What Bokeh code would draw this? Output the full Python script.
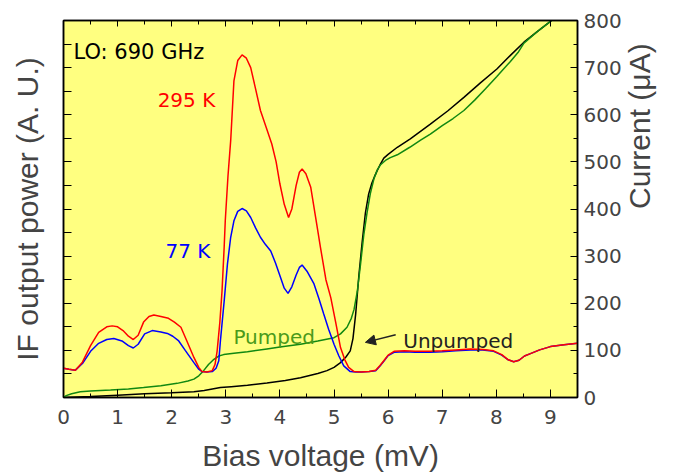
import math
from bokeh.plotting import figure
from bokeh.models import (Range1d, LinearAxis, FixedTicker, SingleIntervalTicker,
                          Label, Arrow, NormalHead)
from bokeh.embed import file_html
from bokeh.resources import INLINE

# IF output power at 295 K (hot load), arbitrary units
v_hot = [0.00, 0.10, 0.22, 0.35, 0.50, 0.65, 0.80, 0.90, 1.00, 1.10, 1.20, 1.29, 1.38, 1.48,
         1.58, 1.67, 1.80, 1.94, 2.05, 2.17, 2.28, 2.41, 2.50, 2.56, 2.65, 2.75, 2.80, 2.84,
         2.89, 2.93, 2.97, 2.99, 3.04, 3.09, 3.15, 3.22, 3.30, 3.38, 3.46, 3.55, 3.64, 3.75,
         3.85, 3.93, 4.00, 4.08, 4.16, 4.22, 4.30, 4.36, 4.41, 4.48, 4.57, 4.66, 4.75, 4.85,
         4.94, 5.03, 5.12, 5.20, 5.27, 5.37, 5.50, 5.65, 5.77, 5.85, 5.92, 6.00, 6.11, 6.30,
         6.50, 6.78, 7.00, 7.25, 7.52, 7.75, 7.95, 8.10, 8.22, 8.32, 8.42, 8.52, 8.63, 8.80,
         9.00, 9.25, 9.50]
p_hot = [62, 60, 58, 75, 110, 138, 150, 152, 150, 142, 130, 123, 132, 160,
         172, 175, 172, 168, 160, 149, 120, 85, 64, 55, 54, 57, 70, 99,
         160, 226, 320, 375, 470, 545, 672, 715, 727, 720, 700, 655, 609, 572,
         538, 500, 453, 410, 382, 400, 450, 478, 485, 475, 446, 382, 318, 250,
         212, 160, 106, 80, 64, 55, 54, 55, 58, 68, 78, 90, 98, 99,
         98, 98, 99, 101, 103, 102, 99, 91, 80, 76, 79, 88, 93, 101,
         108, 112, 115]

# IF output power at 77 K (cold load), arbitrary units
v_cold = [0.00, 0.10, 0.22, 0.35, 0.50, 0.65, 0.80, 0.93, 1.08, 1.20, 1.29, 1.38, 1.50, 1.64,
          1.80, 1.92, 2.02, 2.13, 2.25, 2.41, 2.50, 2.56, 2.65, 2.75, 2.82, 2.87, 2.90, 2.97,
          3.03, 3.09, 3.15, 3.22, 3.30, 3.38, 3.46, 3.55, 3.64, 3.73, 3.83, 3.92, 4.01, 4.08,
          4.15, 4.22, 4.30, 4.36, 4.41, 4.50, 4.63, 4.72, 4.81, 4.90, 5.00, 5.09, 5.18, 5.30,
          5.40, 5.50, 5.65, 5.77, 5.85, 5.92, 6.00, 6.11, 6.30, 6.50, 6.78, 7.00, 7.25, 7.52,
          7.75, 7.95, 8.10, 8.22, 8.32, 8.42, 8.52, 8.63, 8.80, 9.00, 9.25, 9.50]
p_cold = [62, 60, 58, 72, 98, 115, 123, 125, 120, 110, 105, 113, 135, 142,
          139, 136, 130, 120, 100, 74, 60, 55, 54, 55, 62, 78, 120, 205,
          283, 340, 375, 395, 401, 396, 382, 360, 340, 325, 311, 285, 255, 232,
          221, 235, 260, 276, 281, 268, 241, 210, 177, 145, 113, 88, 67, 55,
          54, 54, 55, 57, 67, 77, 89, 96, 97, 96, 96, 97, 99, 101,
          101, 98, 90, 80, 76, 79, 88, 93, 101, 108, 112, 115]

# Pumped I-V curve, current in uA
v_pump = [0.00, 0.05, 0.15, 0.31, 0.50, 0.87, 1.20, 1.48, 1.80, 2.10, 2.30, 2.41, 2.50, 2.59,
          2.68, 2.78, 2.87, 2.96, 3.15, 3.40, 3.76, 4.00, 4.38, 4.70, 5.00, 5.12, 5.24, 5.32,
          5.37, 5.43, 5.49, 5.55, 5.61, 5.67, 5.74, 5.80, 5.86, 5.95, 6.04, 6.17, 6.40, 6.60,
          6.78, 7.00, 7.20, 7.40, 7.60, 7.80, 8.01, 8.10, 8.26, 8.40, 8.51, 8.75, 9.00, 9.02]
i_pump = [0, 4, 8, 12, 14, 16, 18, 21, 25, 30, 35, 39, 46, 57,
          70, 81, 88, 91, 94, 97, 103, 107, 113, 120, 127, 135, 149, 168,
          187, 225, 283, 345, 392, 432, 465, 483, 494, 503, 509, 515, 531, 546,
          559, 577, 592, 609, 631, 655, 681, 693, 713, 732, 752, 776, 798, 800]

# Unpumped I-V curve, current in uA
v_dark = [0.00, 0.50, 1.00, 1.50, 2.00, 2.41, 2.60, 2.75, 2.90, 3.10, 3.40, 3.76, 4.10, 4.38,
          4.70, 4.87, 5.00, 5.12, 5.22, 5.30, 5.35, 5.40, 5.46, 5.52, 5.58, 5.64, 5.70, 5.76,
          5.80, 5.86, 5.92, 6.00, 6.17, 6.41, 6.78, 7.10, 7.40, 7.70, 8.01, 8.26, 8.51, 8.75,
          9.00, 9.02]
i_dark = [0, 2, 5, 8, 10, 12, 15, 18, 21, 23, 26, 31, 36, 42,
          51, 57, 64, 74, 86, 99, 125, 177, 260, 330, 392, 432, 455, 472,
          482, 496, 508, 516, 531, 549, 580, 608, 637, 667, 697, 726, 754, 776,
          798, 800]

x_major = list(range(0, 10))
power_ticks = list(range(0, 850, 50))

p = figure(width=677, height=475, output_backend="svg", toolbar_location=None,
           x_range=Range1d(0, 9.5), y_range=Range1d(0, 800),
           min_border_left=63, min_border_right=100, min_border_top=20, min_border_bottom=78)
p.extra_y_ranges = {"current": Range1d(0, 800)}
p.background_fill_color = "#ffff80"
p.border_fill_color = "white"
p.outline_line_color = "black"
p.outline_line_width = 1.5
p.grid.visible = False

TICK_FONT = "DejaVu Sans"
TITLE_FONT = "Liberation Sans"

# bottom axis: bias voltage
xa = p.xaxis[0]
xa.ticker = SingleIntervalTicker(interval=1, num_minor_ticks=2)
xa.axis_label = "Bias voltage (mV)"
xa.axis_label_text_font = TITLE_FONT
xa.axis_label_text_font_size = "30px"
xa.axis_label_text_font_style = "normal"
xa.axis_label_standoff = 12
xa.major_label_text_font = TICK_FONT
xa.major_label_text_font_size = "20px"
xa.major_label_standoff = 12
xa.major_tick_in, xa.major_tick_out = 8, 0
xa.minor_tick_in, xa.minor_tick_out = 4, 0
xa.axis_line_width = 1.5

# left axis: IF power, ticks only
ya = p.yaxis[0]
ya.ticker = FixedTicker(ticks=power_ticks, minor_ticks=[])
ya.major_label_overrides = {t: "" for t in power_ticks}
ya.major_label_standoff = 0
ya.axis_label = "IF output power (A. U.)"
ya.axis_label_text_font = TITLE_FONT
ya.axis_label_text_font_size = "30px"
ya.axis_label_text_font_style = "normal"
ya.axis_label_standoff = 20
ya.major_tick_in, ya.major_tick_out = 8, 0
ya.axis_line_width = 1.5

# top axis: mirrored ticks
top = LinearAxis(ticker=SingleIntervalTicker(interval=1, num_minor_ticks=2))
top.major_label_overrides = {t: "" for t in x_major}
top.major_label_standoff = 0
top.major_tick_in, top.major_tick_out = 6, 0
top.minor_tick_in, top.minor_tick_out = 4, 0
top.axis_line_width = 1.5
p.add_layout(top, "above")

# right axis: current, title reading bottom to top
ra = LinearAxis(y_range_name="current",
                ticker=SingleIntervalTicker(interval=100, num_minor_ticks=2))
ra.major_label_text_font = TICK_FONT
ra.major_label_text_font_size = "20px"
ra.major_label_standoff = 6
ra.major_tick_in, ra.major_tick_out = 7, 0
ra.minor_tick_in, ra.minor_tick_out = 4, 0
ra.axis_line_width = 1.5
ra.axis_label = "Current (\u03bcA)"
ra.axis_label_text_font = TITLE_FONT
ra.axis_label_text_font_size = "30px"
ra.axis_label_text_font_style = "normal"
ra.axis_label_standoff = 15
ra.axis_label_orientation = math.pi / 2
p.add_layout(ra, "right")

# curves
p.line(v_dark, i_dark, y_range_name="current", line_color="black", line_width=1.5)
p.line(v_pump, i_pump, y_range_name="current", line_color="#118811", line_width=1.5)
p.line(v_cold, p_cold, line_color="#0000ff", line_width=1.5)
p.line(v_hot, p_hot, line_color="#ff0000", line_width=1.5)

def note(x, y, text, color, size="20px", y_range_name="default"):
    p.add_layout(Label(x=x, y=y, text=text, text_color=color, text_font=TICK_FONT,
                       text_font_size=size, text_baseline="alphabetic",
                       y_range_name=y_range_name))

note(0.185, 734, "LO: 690 GHz", "black", "21px")
note(1.74, 632, "295 K", "#ff0000")
note(1.885, 310, "77 K", "#0000ff")
note(3.14, 128, "Pumped", "#4a9a1a", y_range_name="current")
note(6.28, 120, "Unpumped", "#222222", y_range_name="current")

p.add_layout(Arrow(end=NormalHead(size=10, fill_color="#222222", line_color="#222222"),
                   x_start=6.14, y_start=133, x_end=5.58, y_end=117,
                   y_range_name="current", line_color="#222222", line_width=1.5))

open("out.html", "w").write(file_html(p, INLINE))
